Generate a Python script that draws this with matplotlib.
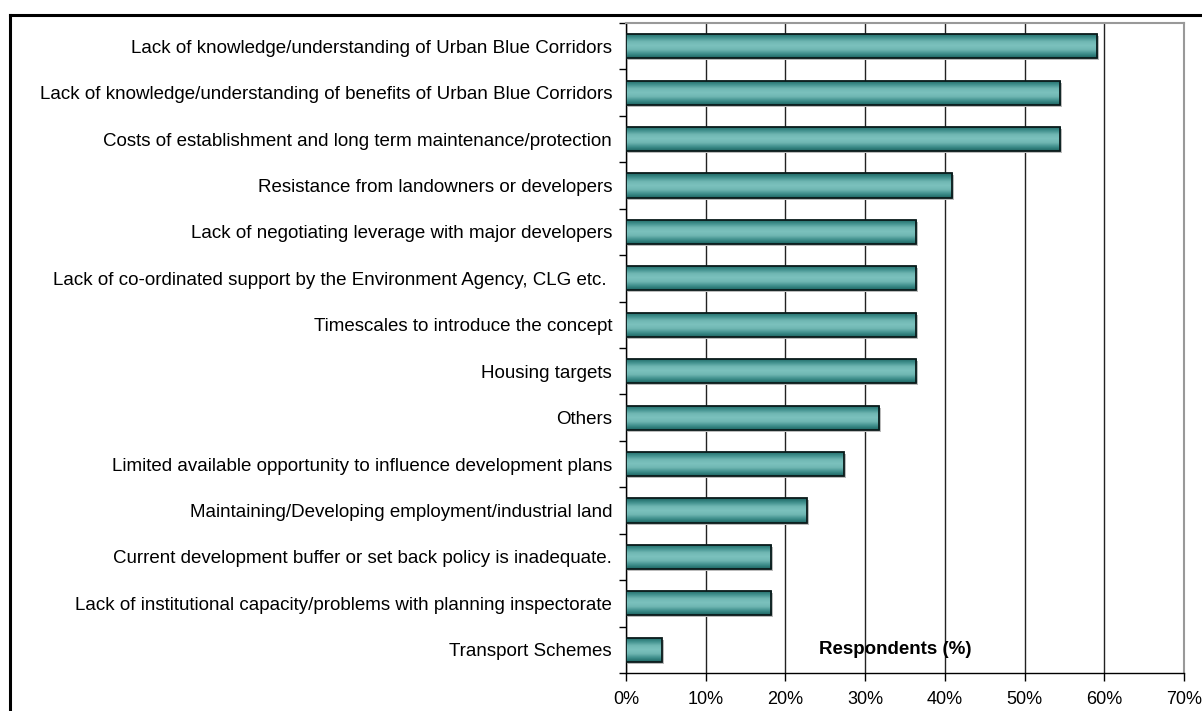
import numpy as np
import matplotlib
matplotlib.use("Agg")
import matplotlib.pyplot as plt
from matplotlib.lines import Line2D
from matplotlib.colors import LinearSegmentedColormap
import matplotlib.transforms as mtransforms

categories = [
    "Lack of knowledge/understanding of Urban Blue Corridors",
    "Lack of knowledge/understanding of benefits of Urban Blue Corridors",
    "Costs of establishment and long term maintenance/protection",
    "Resistance from landowners or developers",
    "Lack of negotiating leverage with major developers",
    "Lack of co-ordinated support by the Environment Agency, CLG etc. ",
    "Timescales to introduce the concept",
    "Housing targets",
    "Others",
    "Limited available opportunity to influence development plans",
    "Maintaining/Developing employment/industrial land",
    "Current development buffer or set back policy is inadequate.",
    "Lack of institutional capacity/problems with planning inspectorate",
    "Transport Schemes",
]
values = [59.1, 54.5, 54.5, 40.9, 36.4, 36.4, 36.4, 36.4, 31.8, 27.3, 22.7, 18.2, 18.2, 4.5]
xticks = [0, 10, 20, 30, 40, 50, 60, 70]
xlabel = "Respondents (%)"

plt.rcParams['font.family'] = ['Liberation Sans', 'DejaVu Sans']

W, H, DPI = 1202, 711, 100
fig = plt.figure(figsize=(W / DPI, H / DPI), dpi=DPI)
ax = fig.add_axes([626 / W, 1 - 673 / H, (1184 - 626) / W, (673 - 23) / H])

y = np.arange(len(categories))
bars = ax.barh(y, values, height=0.52, facecolor='none', edgecolor='#0a1a1a',
               linewidth=1.3, zorder=4)

cmap = LinearSegmentedColormap.from_list(
    'cyl', ['#1d6563', '#3f8f8c', '#6fb6b2', '#7cc2be', '#6fb6b2', '#3f8f8c', '#1d6563'])
grad = np.linspace(0, 1, 64).reshape(-1, 1)
shadow_tr = ax.transData + mtransforms.ScaledTranslation(2 / DPI, -2 / DPI, fig.dpi_scale_trans)
for b in bars:
    x0, y0, w, h = b.get_x(), b.get_y(), b.get_width(), b.get_height()
    ax.add_patch(plt.Rectangle((x0, y0), w, h, facecolor='#bbbbbb', edgecolor='none',
                               zorder=2, transform=shadow_tr))
    im = ax.imshow(grad, cmap=cmap, aspect='auto', extent=(x0, x0 + w, y0 + h, y0),
                   zorder=3, interpolation='bilinear')
    im.set_clip_path(b)

ax.set_xlim(0, 70)
ax.set_ylim(len(categories) - 0.5, -0.5)
ax.set_xticks(xticks)
ax.set_xticklabels([f"{t}%" for t in xticks], fontsize=13)
ax.set_yticks(y)
ax.set_yticklabels(categories, fontsize=13.5)
ax.set_yticks(np.arange(len(categories) + 1) - 0.5, minor=True)
ax.tick_params(axis='y', which='major', length=0, pad=10)
ax.tick_params(axis='y', which='minor', length=5, width=1, direction='out')
ax.tick_params(axis='x', which='major', length=6, width=1, direction='out', pad=7)

ax.grid(axis='x', color='#222222', linewidth=1.0, zorder=1)
ax.set_axisbelow(True)
for s in ['top', 'right']:
    ax.spines[s].set_color('#999999')
    ax.spines[s].set_linewidth(1.5)
for s in ['left', 'bottom']:
    ax.spines[s].set_color('black')
    ax.spines[s].set_linewidth(1.0)

ax.text(33.8, len(categories) - 1, xlabel, fontsize=13.5, fontweight='bold',
        ha='center', va='center', zorder=5)

# figure frame (left and top edges)
fig.add_artist(Line2D([10 / W, 10 / W], [0, 1 - 15 / H], color='black', linewidth=2.2,
                      transform=fig.transFigure))
fig.add_artist(Line2D([10 / W, 1], [1 - 15 / H, 1 - 15 / H], color='black', linewidth=2.2,
                      transform=fig.transFigure))

fig.savefig('out.png', dpi=DPI, facecolor='white')
